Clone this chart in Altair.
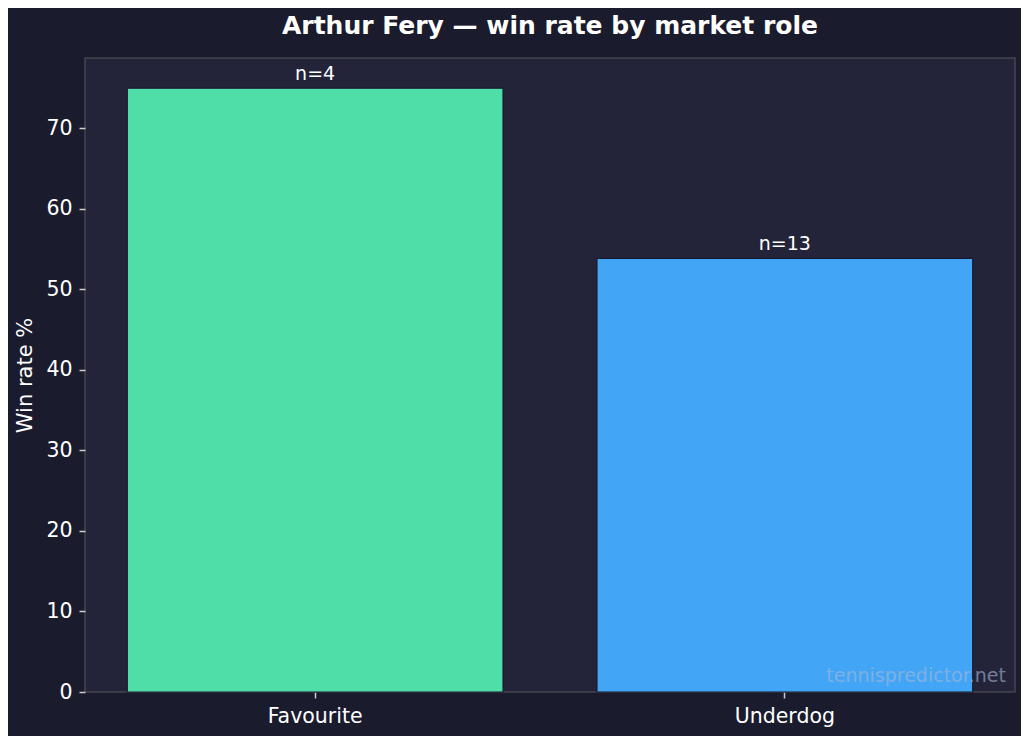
import altair as alt
import pandas as pd

roles = ["Favourite", "Underdog"]
win_rates = [75.0, 53.85]
sample_sizes = ["n=4", "n=13"]
bar_colors = ["#50dea8", "#42a5f5"]
y_ticks = [0, 10, 20, 30, 40, 50, 60, 70]

df = pd.DataFrame({"role": roles, "rate": win_rates, "label": sample_sizes})

W, H = 930, 634
FONT = "DejaVu Sans"

x_enc = alt.X("role:N", sort=roles,
              scale=alt.Scale(paddingInner=0.2, paddingOuter=0.09),
              axis=alt.Axis(title=None, labelAngle=0, labelColor="white",
                            labelFontSize=20.5, labelFont=FONT, labelPadding=8,
                            tickColor="#cccccc", tickSize=6, tickWidth=1.5,
                            domain=False))
y_enc = alt.Y("rate:Q", scale=alt.Scale(domain=[0, 78.75], nice=False, zero=True),
              axis=alt.Axis(title="Win rate %", values=y_ticks, grid=False,
                            labelColor="white", labelFontSize=20.5, labelFont=FONT,
                            labelPadding=7, tickColor="#cccccc", tickSize=6,
                            tickWidth=1.5, domain=False, titleColor="white",
                            titleFontSize=21, titleFont=FONT, titleFontWeight="normal",
                            titlePadding=10))

bars = alt.Chart(df).mark_bar(stroke="#1a1a2e", strokeWidth=1.2).encode(
    x=x_enc, y=y_enc,
    color=alt.Color("role:N", scale=alt.Scale(domain=roles, range=bar_colors), legend=None),
)

labels = alt.Chart(df).mark_text(color="white", fontSize=19, font=FONT,
                                 baseline="alphabetic", dy=-8).encode(
    x=alt.X("role:N", sort=roles), y="rate:Q", text="label:N"
)

watermark = alt.Chart(pd.DataFrame({"t": ["tennispredictor.net"]})).mark_text(
    color="#a8b8d8", opacity=0.6, fontSize=19, font=FONT, align="right",
    baseline="alphabetic"
).encode(x=alt.value(W - 9), y=alt.value(H - 10), text="t:N")

chart = alt.layer(bars, labels, watermark).properties(
    width=W, height=H,
    title=alt.TitleParams("Arthur Fery — win rate by market role", color="white",
                          fontSize=25, fontWeight="bold", font=FONT,
                          anchor="middle", baseline="alphabetic", offset=-1),
    background="#1b1b2e",
    autosize=alt.AutoSizeParams(type="none"),
    padding={"left": 77, "top": 50, "right": 6, "bottom": 44},
).configure_view(fill="#23243a", stroke="#46464f", strokeWidth=1.5)

chart.save("out.html", embed_options={"renderer": "svg", "actions": False})
